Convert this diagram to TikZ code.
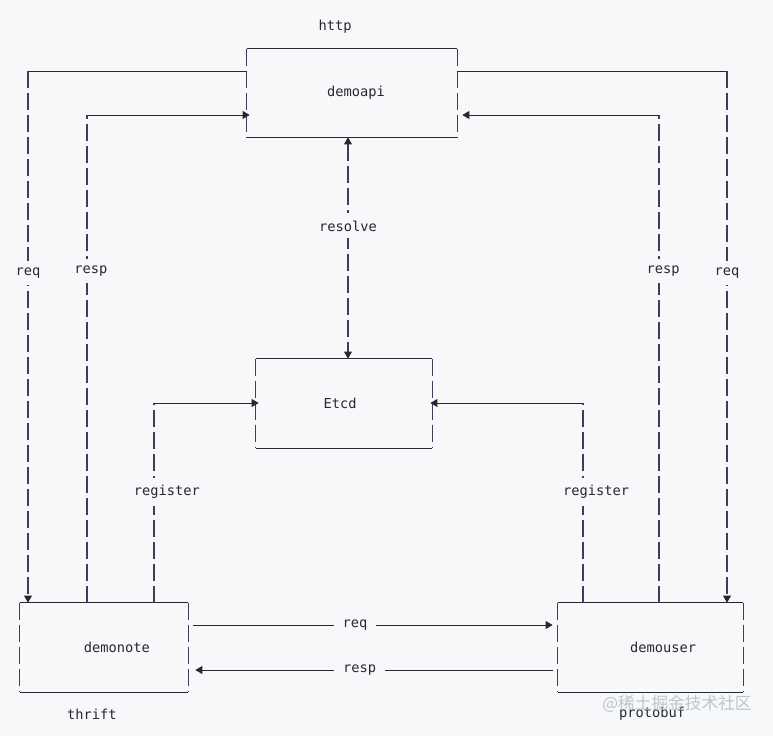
\documentclass[tikz,border=0pt]{standalone}
\usepackage{fontspec}
\setmonofont{DejaVu Sans Mono}
\newfontfamily\cjkfont{Noto Sans CJK SC}
\usetikzlibrary{arrows.meta, positioning}

\definecolor{bgpage}{RGB}{246,248,250}
\definecolor{inkh}{RGB}{40,40,48}
\definecolor{inkv}{RGB}{72,56,92}
\definecolor{wmark}{RGB}{192,196,202}

% Helper: ascii-like frame, solid top/bottom, dashed sides
% #1=node name
\newcommand{\boxedges}[1]{
    \draw[hln] (#1.north west) -- (#1.north east)
               (#1.south west) -- (#1.south east);
    \draw[vln] (#1.north west) -- (#1.south west)
               (#1.north east) -- (#1.south east);
}

\begin{document}
\begin{tikzpicture}[
      x=0.02cm, y=-0.02cm,
      every node/.style={font=\ttfamily\fontsize{7.8}{9}\selectfont, text=inkh},
      svc/.style={inner sep=0pt, minimum height=1.78cm},
      hln/.style={draw=inkh, line width=0.55pt},
      vln/.style={draw=inkv, line width=0.6pt, dash pattern=on 0.34cm off 0.1cm},
      tip/.style={-{Triangle[length=4pt, width=4.5pt, color=inkh]}},
      lbl/.style={fill=bgpage, inner xsep=5pt, inner ysep=4pt}]

    % 1 px of the sketch = 0.02 cm, y runs downwards
    \fill[bgpage] (0,0) rectangle (773,736);
    \useasboundingbox (0,0) rectangle (773,736);

    % === services ===
    \node[svc, minimum width=4.2cm, minimum height=1.76cm,
          label={[xshift=0.08cm]center:demoapi}] (api) at (352,93) {};
    \node[svc, minimum width=3.52cm,
          label={[xshift=-0.08cm]center:Etcd}] (etcd) at (344,403.5) {};
    \node[svc, minimum width=3.36cm,
          label={[xshift=0.26cm]center:demonote}] (note) at (104,647.5) {};
    \node[svc, minimum width=3.7cm,
          label={[xshift=0.25cm]center:demouser}] (user) at (650.5,647.5) {};
    \boxedges{api}
    \boxedges{etcd}
    \boxedges{note}
    \boxedges{user}

    % protocol names
    \node (http) at (335,27) {http};
    \node (thrift) at (92,714) {thrift};
    \node (protobuf) at (652,714) {protobuf};

    % === demoapi <-> demonote ===
    \coordinate (reqL) at (28,71);
    \draw[hln] (api.west |- reqL) -- (reqL);
    \draw[vln, tip] (reqL) -- node[lbl, pos=0.38] {req} (reqL |- note.north);
    \coordinate (respL) at (87,115);
    \draw[vln] (respL |- note.north) -- node[lbl, pos=0.68, xshift=0.08cm] {resp} (respL);
    \draw[hln, tip] (respL) -- ([xshift=0.06cm]api.west |- respL);

    % === demoapi <-> demouser ===
    \coordinate (reqR) at (727,71);
    \draw[hln] (api.east |- reqR) -- (reqR);
    \draw[vln, tip] (reqR) -- node[lbl, pos=0.38] {req} (reqR |- user.north);
    \coordinate (respR) at (659,115);
    \draw[vln] (respR |- user.north) -- node[lbl, pos=0.68, xshift=0.08cm] {resp} (respR);
    \draw[hln, tip] (respR) -- ([xshift=0.1cm]api.east |- respR);

    % === resolve ===
    \coordinate (rslv) at (348,226);
    \draw[vln, {Triangle[length=4pt, width=4.5pt, color=inkh]}-{Triangle[length=4pt, width=4.5pt, color=inkh]}]
        (rslv |- api.south) -- node[lbl, pos=0.4] {resolve} (rslv |- etcd.north);

    % === register ===
    \coordinate (regL) at (154,403);
    \draw[vln] (regL |- note.north) -- node[lbl, pos=0.555, xshift=0.26cm] {register} (regL);
    \draw[hln, tip] (regL) -- ([xshift=0.06cm]etcd.west |- regL);
    \coordinate (regR) at (583,403);
    \draw[vln] (regR |- user.north) -- node[lbl, pos=0.555, xshift=0.26cm] {register} (regR);
    \draw[hln, tip] (regR) -- ([xshift=-0.04cm]etcd.east |- regR);

    % === demonote <-> demouser ===
    \coordinate (reqB) at (0,625);
    \draw[hln, tip] ([xshift=0.1cm]note.east |- reqB)
        -- node[lbl, pos=0.45] {req} ([xshift=-0.1cm]user.west |- reqB);
    \coordinate (respB) at (0,670);
    \draw[hln, tip] ([xshift=-0.1cm]user.west |- respB)
        -- node[lbl, pos=0.54] {resp} ([xshift=0.14cm]note.east |- respB);

    % watermark
    \node[font=\cjkfont\fontsize{9.5}{10}\selectfont, text=wmark] (wm) at (677,704) {@稀土掘金技术社区};

\end{tikzpicture}
\end{document}
